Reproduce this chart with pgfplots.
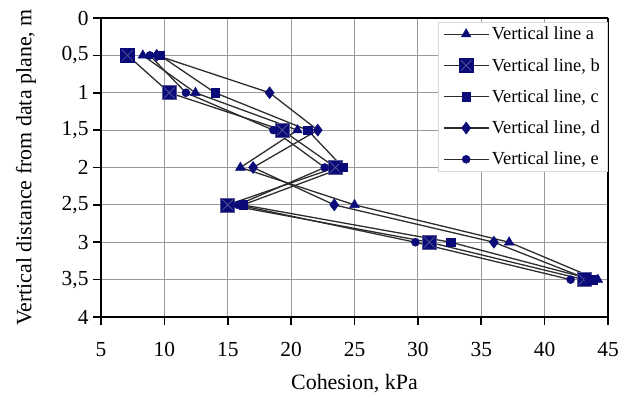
\documentclass[border=0pt]{standalone}
\usepackage{fontspec}
\setmainfont{Liberation Serif}
\usepackage{pgfplots}
\pgfplotsset{compat=1.18}
\definecolor{mk}{RGB}{10,10,120}
\definecolor{ln}{RGB}{45,45,45}
\definecolor{xc}{RGB}{90,90,150}
\pgfdeclareplotmark{sqx}{%
  \pgfpathrectangle{\pgfqpoint{-\pgfplotmarksize}{-\pgfplotmarksize}}{\pgfqpoint{2\pgfplotmarksize}{2\pgfplotmarksize}}%
  \pgfusepathqfillstroke
  \pgfsetstrokecolor{xc}%
  \pgfsetlinewidth{0.7bp}%
  \pgfpathmoveto{\pgfqpoint{-0.75\pgfplotmarksize}{-0.75\pgfplotmarksize}}%
  \pgfpathlineto{\pgfqpoint{0.75\pgfplotmarksize}{0.75\pgfplotmarksize}}%
  \pgfpathmoveto{\pgfqpoint{-0.75\pgfplotmarksize}{0.75\pgfplotmarksize}}%
  \pgfpathlineto{\pgfqpoint{0.75\pgfplotmarksize}{-0.75\pgfplotmarksize}}%
  \pgfusepathqstroke
}
\begin{document}
\begin{tikzpicture}
\path[use as bounding box] (0,0) rectangle (637bp,397bp);
\begin{axis}[
  at={(101bp,80bp)}, anchor=south west,
  scale only axis, width=507bp, height=299bp,
  xmin=5, xmax=45, ymin=0, ymax=4, y dir=reverse,
  xtick={5,10,...,45},
  ytick={0,0.5,1,1.5,2,2.5,3,3.5,4},
  yticklabels={0,{0,5},1,{1,5},2,{2,5},3,{3,5},4},
  xtick pos=bottom, ytick pos=left,
  tick align=outside, major tick length=8bp,
  every tick/.style={black, line width=1.6bp},
  separate axis lines,
  axis line style={black, line width=1.6bp},
  grid=major, grid style={gray!80, line width=0.9bp},
  /pgf/number format/assume math mode=true,
  tick label style={font=\fontsize{21.5}{24}\selectfont},
  xticklabel style={yshift=-14bp},
  yticklabel style={xshift=-1bp},
  xlabel={Cohesion, kPa}, ylabel={Vertical distance from data plane, m},
  every axis x label/.style={at={(axis description cs:0.5,-0.222)}, anchor=center, font=\fontsize{22}{25}\selectfont},
  every axis y label/.style={at={(axis description cs:-0.148,0.5)}, rotate=90, anchor=center, font=\fontsize{22}{25}\selectfont},
  legend style={at={(axis description cs:0.998,0.987)}, anchor=north east,
    draw=gray!30, fill=white, font=\fontsize{18.5}{21}\selectfont,
    row sep=13bp, inner xsep=5bp, inner ysep=3bp},
  legend cell align=left,
  legend image code/.code={\draw[#1] (0bp,0bp) -- (22bp,0bp) plot coordinates {(22bp,0bp)} -- (45bp,0bp);},
  mymk/.style={mark options={mk, draw=mk, fill=mk, solid, line width=0.5bp}},
]
\addplot[ln, line width=1.3bp, mark=triangle*, mark size=5.5bp, mymk] coordinates {(8.3,0.5) (12.45,1) (20.5,1.5) (16.0,2) (25.0,2.5) (37.2,3) (44.2,3.5)};
\addlegendentry{Vertical line a}
\addplot[ln, line width=1.3bp, mark=sqx, mark size=7bp, mymk] coordinates {(7.1,0.5) (10.4,1) (19.3,1.5) (23.5,2) (15.0,2.5) (30.9,3) (43.1,3.5)};
\addlegendentry{Vertical line, b}
\addplot[ln, line width=1.3bp, mark=square*, mark size=4.2bp, mymk] coordinates {(9.65,0.5) (14.0,1) (21.3,1.5) (24.1,2) (16.2,2.5) (32.6,3) (43.8,3.5)};
\addlegendentry{Vertical line, c}
\addplot[ln, line width=1.3bp, mark=diamond*, mark size=6bp, mymk] coordinates {(9.4,0.5) (18.3,1) (22.1,1.5) (17.0,2) (23.4,2.5) (36.0,3) (43.5,3.5)};
\addlegendentry{Vertical line, d}
\addplot[ln, line width=1.3bp, mark=*, mark size=4bp, mymk] coordinates {(8.85,0.5) (11.7,1) (18.6,1.5) (22.65,2) (15.8,2.5) (29.8,3) (42.05,3.5)};
\addlegendentry{Vertical line, e}
\end{axis}
\end{tikzpicture}
\end{document}
